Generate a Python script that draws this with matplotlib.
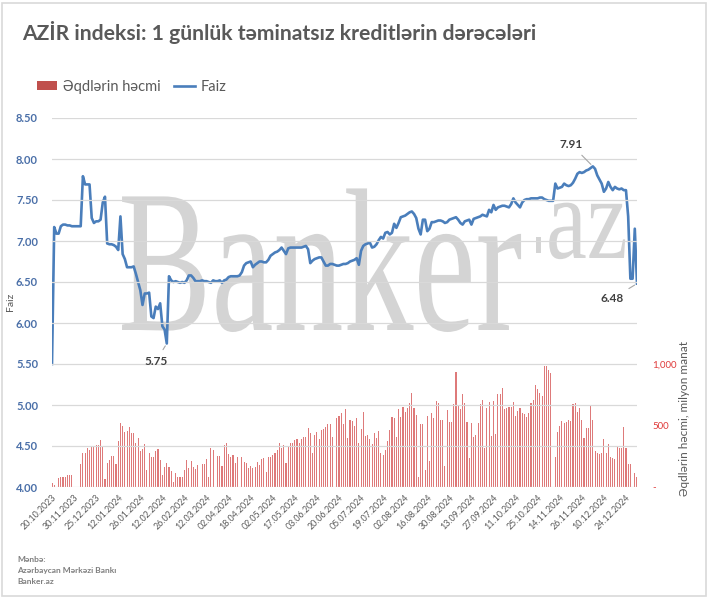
import matplotlib
matplotlib.use('Agg')
import matplotlib.pyplot as plt
from matplotlib.textpath import TextPath
from matplotlib.patches import PathPatch, Rectangle
from matplotlib.font_manager import FontProperties
from matplotlib.transforms import Affine2D

plt.rcParams['font.family'] = ['Lato', 'DejaVu Sans']

# ---------------- data ----------------
tick_labels = ["20.10.2023", "30.11.2023", "25.12.2023", "12.01.2024", "26.01.2024",
               "12.02.2024", "26.02.2024", "12.03.2024", "02.04.2024", "18.04.2024",
               "02.05.2024", "17.05.2024", "03.06.2024", "20.06.2024", "05.07.2024",
               "19.07.2024", "02.08.2024", "16.08.2024", "30.08.2024", "13.09.2024",
               "27.09.2024", "11.10.2024", "25.10.2024", "14.11.2024", "26.11.2024",
               "10.12.2024", "24.12.2024"]

rate = [5.50, 7.17, 7.09, 7.09, 7.18, 7.20, 7.20, 7.19, 7.19, 7.18,
        7.18, 7.18, 7.18, 7.18, 7.79, 7.69, 7.69, 7.69, 7.28, 7.22,
        7.24, 7.24, 7.26, 7.47, 7.54, 6.97, 6.96, 6.96, 6.95, 6.93,
        6.89, 7.30, 6.84, 6.78, 6.68, 6.68, 6.68, 6.69, 6.60, 6.50,
        6.40, 6.22, 6.36, 6.36, 6.37, 6.08, 6.06, 6.20, 6.17, 6.24,
        5.96, 5.92, 5.75, 6.57, 6.52, 6.50, 6.51, 6.50, 6.49, 6.50,
        6.49, 6.52, 6.58, 6.58, 6.55, 6.51, 6.51, 6.51, 6.52, 6.51,
        6.51, 6.50, 6.49, 6.52, 6.51, 6.51, 6.52, 6.49, 6.52, 6.53,
        6.56, 6.57, 6.57, 6.57, 6.57, 6.58, 6.62, 6.70, 6.73, 6.74,
        6.75, 6.68, 6.71, 6.73, 6.75, 6.75, 6.74, 6.74, 6.77, 6.82,
        6.84, 6.86, 6.87, 6.89, 6.92, 6.88, 6.84, 6.91, 6.92, 6.92,
        6.92, 6.92, 6.92, 6.92, 6.93, 6.94, 6.90, 6.73, 6.76, 6.78,
        6.79, 6.80, 6.80, 6.75, 6.70, 6.70, 6.72, 6.72, 6.71, 6.70,
        6.70, 6.71, 6.72, 6.72, 6.73, 6.75, 6.76, 6.77, 6.79, 6.71,
        6.88, 6.94, 6.96, 6.97, 6.98, 6.92, 6.93, 6.96, 7.01, 7.05,
        7.03, 7.10, 7.11, 7.08, 7.10, 7.21, 7.16, 7.22, 7.29, 7.30,
        7.31, 7.33, 7.35, 7.36, 7.33, 7.28, 7.15, 7.08, 7.26, 7.26,
        7.12, 7.15, 7.23, 7.23, 7.24, 7.25, 7.25, 7.24, 7.22, 7.23,
        7.26, 7.27, 7.28, 7.29, 7.26, 7.22, 7.20, 7.24, 7.25, 7.26,
        7.20, 7.27, 7.28, 7.29, 7.30, 7.32, 7.31, 7.30, 7.38, 7.35,
        7.44, 7.38, 7.41, 7.42, 7.43, 7.43, 7.42, 7.41, 7.45, 7.52,
        7.47, 7.44, 7.41, 7.47, 7.50, 7.51, 7.51, 7.52, 7.52, 7.52,
        7.52, 7.53, 7.53, 7.51, 7.50, 7.49, 7.49, 7.49, 7.70, 7.64,
        7.65, 7.66, 7.70, 7.68, 7.67, 7.68, 7.71, 7.76, 7.82, 7.84,
        7.83, 7.84, 7.86, 7.87, 7.89, 7.91, 7.88, 7.80, 7.75, 7.70,
        7.60, 7.64, 7.72, 7.66, 7.62, 7.66, 7.64, 7.63, 7.64, 7.62,
        7.62, 7.30, 6.54, 6.54, 7.15, 6.48]

volume = [30, 14, 0, 70, 81, 84, 84, 95, 95, 95,
          0, 0, 0, 184, 274, 274, 314, 300, 322, 336,
          341, 341, 379, 322, 62, 198, 220, 252, 252, 190,
          377, 518, 496, 450, 458, 490, 436, 442, 360, 398,
          295, 312, 350, 138, 279, 247, 247, 295, 306, 220,
          98, 160, 198,
          165, 133, 41, 111, 84, 84, 84, 138, 220, 154,
          209, 160, 144, 179, 0, 184, 184, 225, 84, 317,
          300, 0, 255, 252, 171, 341, 355, 266, 247, 260,
          192, 241, 0, 241, 206, 198, 157, 171, 157, 165,
          203, 181, 225, 233, 122, 241, 241, 260, 279, 300,
          355, 314, 345, 192,
          333, 355, 360, 382, 393, 360, 393, 409, 409, 477,
          436, 279, 423, 447, 393, 463, 469, 490, 509, 509,
          404, 0, 558, 580, 599, 512, 631, 396, 545, 539,
          500, 558, 355, 471, 612, 415, 425, 388, 350, 436,
          396, 458, 279, 260, 300, 374, 463, 572, 558, 404,
          631, 572, 653,
          612, 640, 680, 761, 640, 585, 84, 512, 512, 138,
          577, 214, 599, 564, 699, 680, 545, 545, 171, 626,
          531, 531, 672, 938, 659, 631, 756, 686, 528, 233,
          518, 409, 423, 523, 672, 707, 320, 640, 691, 415,
          702, 431, 753, 753, 802, 631, 640, 648, 648, 691,
          577, 621, 640, 604,
          591, 572, 604, 680, 707, 829, 794, 761, 740, 986,
          986, 951, 924, 0, 241, 450, 496, 537, 523, 526,
          545, 539, 672, 686, 612, 645, 545, 396, 477, 477,
          667, 545, 295, 279, 268, 279, 390, 274, 347, 241,
          233, 225, 328, 314, 314, 485, 314, 187, 187, 0,
          111, 79]

left_ticks = [4.0, 4.5, 5.0, 5.5, 6.0, 6.5, 7.0, 7.5, 8.0, 8.5]
right_ticks = [0, 500, 1000]
right_tick_labels = ["-", "500", "1,000"]

# ---------------- figure ----------------
W, H = 709, 599
fig = plt.figure(figsize=(W / 100, H / 100), dpi=100)
fig.patch.set_facecolor('white')

# watermark
wm_color = '#d4d4d4'
serif = FontProperties(family='Liberation Serif')
tp = TextPath((0, 0), "Banker", size=1, prop=serif)
fig.add_artist(PathPatch(tp, transform=Affine2D().scale(140, 204).translate(118, H - 330),
                         facecolor=wm_color, edgecolor='none', zorder=-5))
tp2 = TextPath((0, 0), "az", size=1, prop=serif)
fig.add_artist(PathPatch(tp2, transform=Affine2D().scale(92, 118).translate(546, H - 258),
                         facecolor=wm_color, edgecolor='none', zorder=-5))
fig.add_artist(Rectangle((536, H - 253), 5, 16, transform=None,
                         facecolor=wm_color, edgecolor='none', zorder=-5))

# border
fig.add_artist(Rectangle((1.5, 3.5), W - 5, H - 6, transform=None, fill=False,
                         edgecolor='#d9d9d9', lw=1.2))

ax = fig.add_axes([52 / W, 112 / H, 585 / W, 369 / H])
ax2 = ax.twinx()
ax.set_zorder(ax2.get_zorder() + 1)
ax.patch.set_visible(False)
ax2.patch.set_visible(False)

n = len(rate)
xs = list(range(n))

bars = ax2.bar(xs, volume, width=0.5, color='#de7a7a', linewidth=0,
               label='Əqdlərin həcmi')
line, = ax.plot(xs, rate, color='#4a7ebb', lw=1.9, label='Faiz', solid_joinstyle='round')

ax.set_xlim(0, n - 1)
ax.set_ylim(4.0, 8.5)
ax2.set_ylim(0, 3000)

ax.set_yticks(left_ticks)
ax.set_yticklabels([f"{v:.2f}" for v in left_ticks], color='#4a6fa8',
                   fontsize=8, fontweight='bold')
ax2.set_yticks(right_ticks)
ax2.set_yticklabels(right_tick_labels, color='#e03a3a', fontsize=7)

ax.set_xticks(list(range(0, n, 10))[:len(tick_labels)])
ax.set_xticklabels(tick_labels, rotation=45, ha='right', rotation_mode='anchor',
                   fontsize=6.4, color='#595959')

ax.tick_params(axis='both', length=0)
ax.tick_params(axis='y', pad=10)
ax.tick_params(axis='x', pad=4)
ax2.tick_params(axis='y', length=0, pad=11)
for a in (ax, ax2):
    for s in a.spines.values():
        s.set_visible(False)

ax.grid(axis='y', color='#d9d9d9', lw=0.9)
ax.set_axisbelow(False)

fig.text(10 / W, 1 - 302 / H, 'Faiz', rotation=90, ha='center', va='center',
         color='#595959', fontsize=7.5)
fig.text(684 / W, 1 - 419 / H, 'Əqdlərin həcmi, milyon manat', rotation=90,
         ha='center', va='center', color='#595959', fontsize=8.5)

# title
fig.text(22 / W, 1 - 33 / H, 'AZİR indeksi: 1 günlük təminatsız kreditlərin dərəcələri',
         ha='left', va='center', fontsize=15.2, fontweight='bold', color='#595959')

# legend
leg = fig.legend(handles=[bars, line], labels=['Əqdlərin həcmi', 'Faiz'],
                 loc='center left', bbox_to_anchor=(37 / W, 1 - 87 / H), ncol=2,
                 frameon=False, fontsize=10.5, handlelength=1.4, handleheight=0.6,
                 columnspacing=0.9, handletextpad=0.4, borderpad=0, borderaxespad=0)
for t in leg.get_texts():
    t.set_color('#595959')
leg.legend_handles[0].set_color('#c0504d')

# annotations
ann_kw = dict(textcoords='figure pixels', ha='center', va='center', fontsize=8.5,
              fontweight='bold', color='#404040',
              arrowprops=dict(arrowstyle='-', color='#a6a6a6', lw=0.8, shrinkA=3, shrinkB=2))
ax.annotate('5.75', xy=(rate.index(5.75), 5.75), xytext=(155.7, H - 361.5), **ann_kw)
ax.annotate('7.91', xy=(rate.index(7.91), 7.91), xytext=(570.7, H - 144), **ann_kw)
ax.annotate('6.48', xy=(n - 1, rate[-1]), xytext=(611.7, H - 299), **ann_kw)

# source
src = ['Mənbə:', 'Azərbaycan Mərkəzi Bankı', 'Banker.az']
for k, s in enumerate(src):
    fig.text(17 / W, 1 - (559 + 11 * k) / H, s, ha='left', va='center', fontsize=6,
             fontweight='bold', color='#7f7f7f')

fig.savefig('out.png', dpi=100, facecolor='white')
